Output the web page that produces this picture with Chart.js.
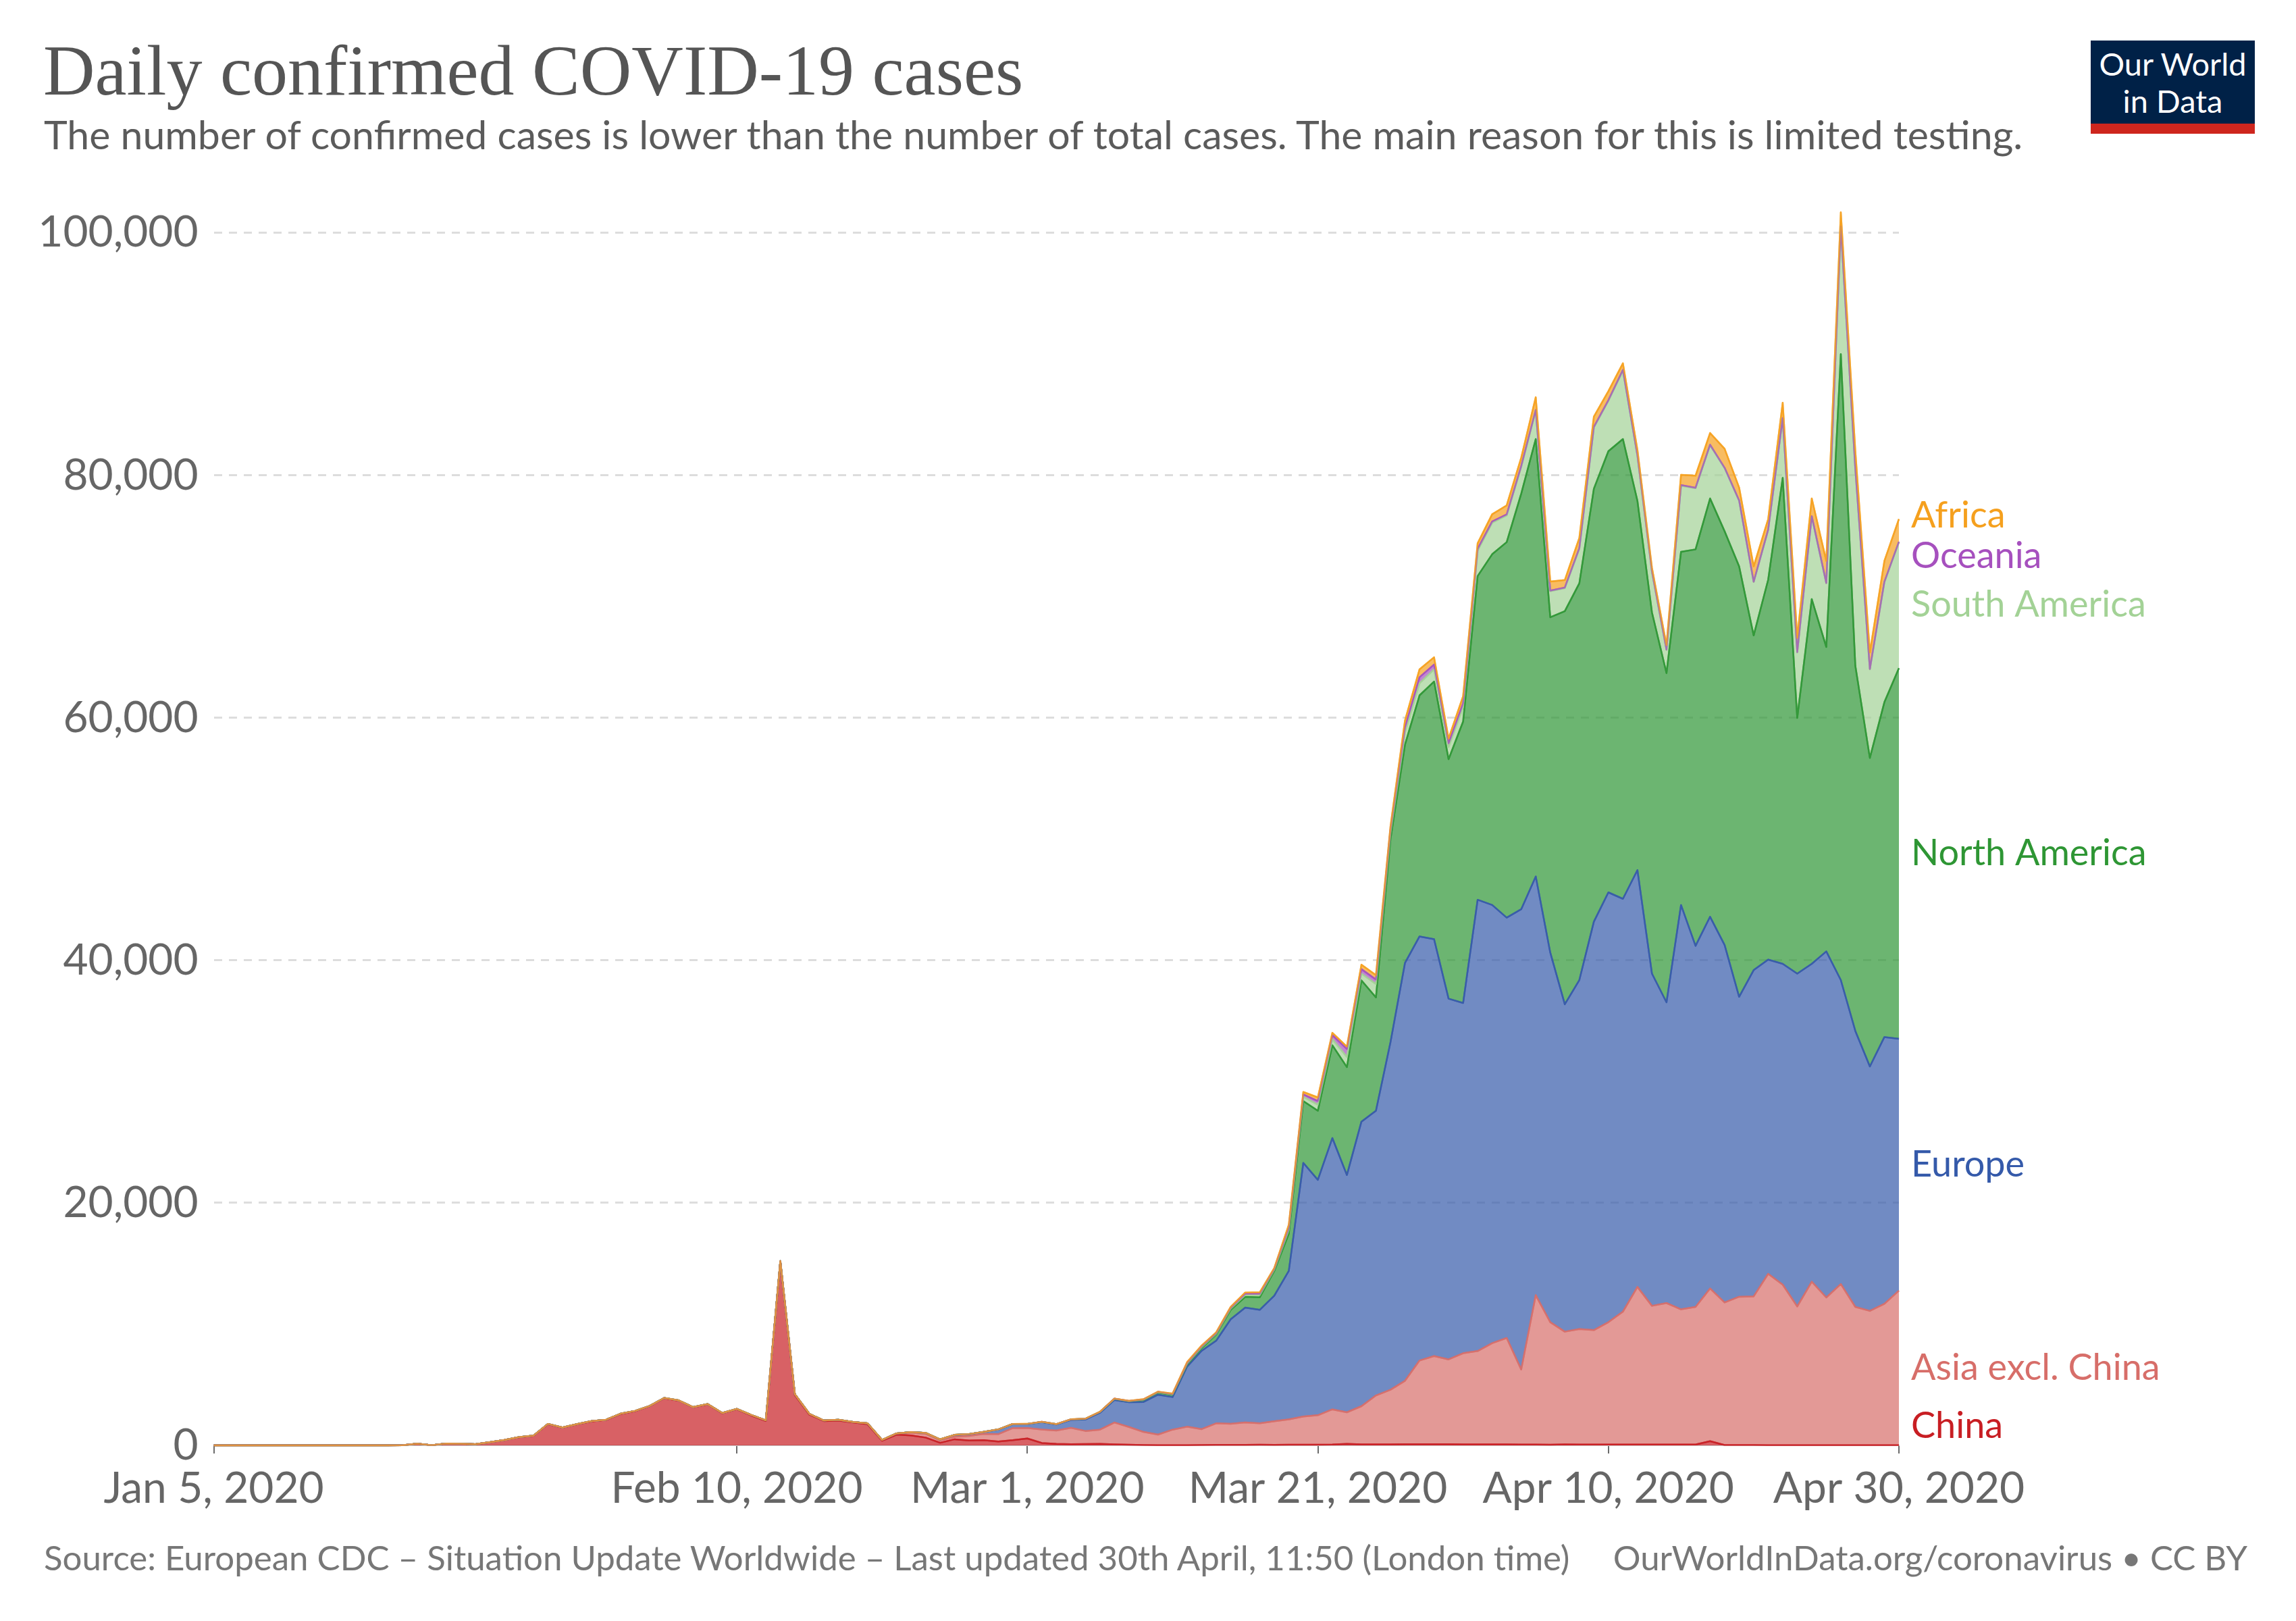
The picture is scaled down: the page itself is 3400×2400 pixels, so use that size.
<!DOCTYPE html>
<html lang="en">
<head>
<meta charset="utf-8" />
<title>Daily confirmed COVID-19 cases</title>
<script src="https://cdn.jsdelivr.net/npm/chart.js@4.4.1/dist/chart.umd.min.js"></script>
<style>
  html, body { margin: 0; padding: 0; background: #fff; }
  body { width: 3400px; height: 2400px; position: relative; overflow: hidden; font-family: Lato, "Noto Sans", sans-serif; }
  #chart { position: absolute; left: 0; top: 0; }
  .title { position: absolute; left: 64px; top: 52px; font-family: "Liberation Serif", "DejaVu Serif", serif; font-size: 106px; line-height: 1; color: #555; white-space: nowrap; }
  .subtitle { position: absolute; left: 65px; top: 164px; font-size: 59px; line-height: 1.2; color: #5b5b5b; white-space: nowrap; }
  .logo { position: absolute; left: 3096px; top: 60px; width: 243px; background: #002147; border-bottom: 15px solid #ce261e; color: #fff; text-align: center; font-size: 47px; line-height: 55px; padding-top: 7px; box-sizing: content-box; height: 116px; }
  .footer { position: absolute; top: 2275px; font-size: 51px; line-height: 1.2; color: #777; white-space: nowrap; }
  .source { left: 65px; }
  .credit { right: 72px; }
</style>
</head>
<body>
  <canvas id="chart" width="3400" height="2400"></canvas>
  <div class="title">Daily confirmed COVID-19 cases</div>
  <div class="subtitle">The number of confirmed cases is lower than the number of total cases. The main reason for this is limited testing.</div>
  <div class="logo">Our World<br>in Data</div>
  <div class="footer source">Source: European CDC – Situation Update Worldwide – Last updated 30th April, 11:50 (London time)</div>
  <div class="footer credit">OurWorldInData.org/coronavirus • CC BY</div>

<script>
  // one label per day, Jan 5 .. Apr 30 2020
  const monthNames = ['Jan', 'Feb', 'Mar', 'Apr'];
  const dates = [];
  for (let i = 0; i < 117; i++) {
    const d = new Date(2020, 0, 5 + i);
    dates.push(`${monthNames[d.getMonth()]} ${d.getDate()}, 2020`);
  }
  const tickDates = ['Jan 5, 2020', 'Feb 10, 2020', 'Mar 1, 2020', 'Mar 21, 2020', 'Apr 10, 2020', 'Apr 30, 2020'];
  const yTicks = [0, 20000, 40000, 60000, 80000, 100000];

  const china = [
    0, 0, 0, 0, 0, 0, 0, 0, 0, 0,
    0, 0, 0, 17, 136, 19, 151, 140, 97, 259,
    441, 665, 787, 1753, 1466, 1740, 1980, 2102, 2590, 2829,
    3235, 3887, 3694, 3143, 3385, 2652, 2973, 2467, 2015, 15141,
    4156, 2538, 2007, 2048, 1888, 1749, 391, 889, 823, 648,
    214, 508, 406, 433, 327, 427, 570, 200, 120, 100,
    110, 130, 80, 50, 30, 20, 20, 20, 30, 40,
    40, 40, 50, 40, 50, 50, 50, 70, 130, 80,
    80, 80, 100, 100, 100, 100, 80, 80, 80, 80,
    70, 70, 60, 80, 70, 70, 70, 70, 70, 70,
    70, 70, 70, 350, 30, 30, 30, 20, 20, 20,
    20, 20, 10, 10, 10, 20, 10
  ];
  const asiaExChina = [
    0, 0, 0, 0, 0, 0, 0, 0, 0, 0,
    0, 0, 0, 0, 1, 2, 3, 5, 3, 8,
    8, 10, 15, 20, 10, 15, 20, 15, 20, 15,
    15, 20, 15, 10, 20, 20, 30, 40, 50, 60,
    60, 60, 50, 60, 40, 70, 60, 80, 220, 300,
    200, 200, 380, 520, 600, 1000, 870, 1110, 1100, 1350,
    1080, 1170, 1810, 1470, 1080, 870, 1280, 1520, 1310, 1780,
    1740, 1850, 1770, 1950, 2090, 2330, 2440, 2900, 2600, 3150,
    4040, 4510, 5230, 6900, 7270, 6990, 7520, 7700, 8350, 8780,
    6190, 12320, 10100, 9300, 9530, 9440, 10090, 10960, 13000, 11440,
    11670, 11150, 11350, 12590, 11760, 12230, 12260, 14130, 13240, 11440,
    13480, 12180, 13300, 11410, 11080, 11660, 12750
  ];
  const europe = [
    0, 0, 0, 0, 0, 0, 0, 0, 0, 0,
    0, 0, 0, 0, 0, 0, 0, 0, 0, 0,
    0, 3, 0, 2, 0, 3, 0, 1, 5, 3,
    2, 5, 3, 3, 2, 3, 5, 3, 2, 2,
    1, 3, 2, 2, 3, 5, 5, 20, 60, 80,
    80, 160, 150, 160, 380, 330, 320, 610, 500, 650,
    950, 1390, 1860, 2050, 2470, 3290, 2690, 4960, 6460, 6810,
    8620, 9470, 9360, 10360, 12250, 20920, 19410, 22380, 19570, 23470,
    23480, 28670, 34470, 34980, 34380, 29750, 28890, 37220, 36140, 34670,
    37960, 34530, 30480, 27000, 28780, 33680, 35450, 34050, 34380, 27400,
    24800, 33350, 29780, 30660, 29480, 24740, 26910, 25920, 26460, 27450,
    26220, 28540, 25070, 22760, 20160, 22000, 20780
  ];
  const northAmerica = [
    0, 0, 0, 0, 0, 0, 0, 0, 0, 0,
    0, 0, 0, 0, 0, 0, 1, 0, 0, 0,
    0, 1, 0, 0, 0, 1, 0, 3, 0, 0,
    1, 0, 1, 0, 0, 0, 0, 0, 0, 0,
    0, 0, 0, 1, 0, 0, 0, 1, 2, 3,
    5, 3, 4, 5, 10, 10, 10, 20, 30, 40,
    50, 60, 80, 60, 160, 180, 190, 150, 220, 510,
    780, 890, 1040, 2040, 3070, 5100, 5700, 7650, 8900, 11650,
    9350, 16740, 18000, 19880, 21250, 19760, 23210, 26700, 28930, 30970,
    34280, 36080, 27660, 32420, 32720, 35710, 36390, 37920, 30450, 29790,
    27160, 29130, 32700, 34500, 34130, 35500, 27600, 31330, 40080, 21090,
    30080, 25110, 51620, 30120, 25450, 27620, 30560
  ];
  const southAmerica = [
    0, 0, 0, 0, 0, 0, 0, 0, 0, 0,
    0, 0, 0, 0, 0, 0, 0, 0, 0, 0,
    0, 0, 0, 0, 0, 0, 0, 0, 0, 0,
    0, 0, 0, 0, 0, 0, 0, 0, 0, 0,
    0, 0, 0, 0, 0, 0, 0, 0, 0, 0,
    0, 0, 0, 0, 0, 0, 2, 2, 3, 5,
    5, 10, 15, 20, 30, 30, 30, 80, 80, 60,
    100, 150, 170, 100, 300, 350, 500, 500, 840, 560,
    1100, 500, 1000, 1000, 1000, 1000, 1200, 2100, 2600, 2200,
    2200, 2350, 2150, 1900, 2850, 5050, 4150, 5650, 3700, 3350,
    1900, 5450, 5050, 4400, 5200, 5400, 4400, 4100, 4900, 5400,
    6800, 5250, 10500, 16200, 7300, 9900, 10400
  ];
  const oceania = [
    0, 0, 0, 0, 0, 0, 0, 0, 0, 0,
    0, 0, 0, 0, 0, 0, 0, 0, 0, 0,
    0, 0, 0, 0, 0, 0, 0, 0, 0, 0,
    0, 0, 0, 0, 0, 0, 0, 0, 0, 0,
    0, 0, 0, 0, 0, 0, 0, 0, 0, 0,
    0, 0, 0, 0, 0, 0, 2, 2, 2, 3,
    5, 5, 10, 10, 20, 20, 20, 60, 70, 60,
    70, 100, 120, 70, 200, 200, 300, 330, 650, 370,
    370, 300, 400, 500, 400, 300, 300, 140, 100, 80,
    70, 50, 50, 50, 50, 50, 50, 50, 50, 30,
    30, 50, 30, 30, 30, 30, 30, 30, 30, 30,
    30, 30, 30, 30, 30, 30, 30
  ];
  const africa = [
    0, 0, 0, 0, 0, 0, 0, 0, 0, 0,
    0, 0, 0, 0, 0, 0, 0, 0, 0, 0,
    0, 0, 0, 0, 0, 0, 0, 0, 0, 0,
    0, 0, 0, 0, 0, 0, 0, 0, 0, 0,
    0, 0, 0, 0, 0, 0, 0, 0, 0, 0,
    0, 0, 0, 0, 0, 0, 2, 3, 3, 5,
    5, 10, 10, 20, 20, 20, 40, 80, 70, 60,
    70, 110, 120, 70, 240, 200, 300, 200, 200, 370,
    370, 250, 600, 650, 600, 400, 600, 460, 600, 750,
    700, 1050, 750, 620, 850, 850, 750, 550, 450, 300,
    370, 850, 1000, 970, 1570, 1070, 1270, 870, 1270, 1170,
    1470, 1820, 1170, 1470, 1370, 1720, 1870
  ];

  // bottom of the stack first
  const seriesNames = ['China', 'Asia excl. China', 'Europe', 'North America', 'South America', 'Oceania', 'Africa'];
  const seriesData = [china, asiaExChina, europe, northAmerica, southAmerica, oceania, africa];
  const seriesRgb = [
    [200, 30, 35], [215, 110, 105], [53, 90, 170], [46, 150, 52],
    [163, 210, 150], [166, 80, 190], [245, 160, 30]
  ];
  const rgba = (c, a) => `rgba(${c[0]},${c[1]},${c[2]},${a})`;

  // redraw the lines bottom -> top so the upper series' outline sits on top
  const lineOrder = {
    id: 'lineOrder',
    afterDatasetsDraw(chart) {
      const { ctx, chartArea } = chart;
      ctx.save();
      ctx.beginPath();
      ctx.rect(chartArea.left - 2, chartArea.top - 40, chartArea.width + 4, chartArea.height + 42);
      ctx.clip();
      chart.data.datasets.forEach((ds, i) => {
        chart.getDatasetMeta(i).dataset.draw(ctx, chartArea);
      });
      ctx.restore();
    }
  };

  // series names at the right end, nudged apart when they collide
  const endLabels = {
    id: 'endLabels',
    afterDraw(chart) {
      const { ctx, chartArea, scales } = chart;
      const last = dates.length - 1;
      const zero = scales.y.getPixelForValue(0);
      const gap = 60;
      let items = chart.data.datasets.map((ds, i) => {
        const top = chart.getDatasetMeta(i).data[last].y;
        const bottom = i === 0 ? zero : chart.getDatasetMeta(i - 1).data[last].y;
        return { text: ds.label, color: rgba(seriesRgb[i], 1), want: (top + bottom) / 2 };
      }).reverse();

      let clusters = items.map(it => ({ items: [it], y: it.want }));
      let merged = true;
      while (merged) {
        merged = false;
        for (let i = 1; i < clusters.length; i++) {
          const a = clusters[i - 1], b = clusters[i];
          const aBottom = a.y + (a.items.length - 1) * gap / 2;
          const bTop = b.y - (b.items.length - 1) * gap / 2;
          if (bTop - aBottom < gap) {
            const all = a.items.concat(b.items);
            const y = all.reduce((s, it) => s + it.want, 0) / all.length;
            clusters.splice(i - 1, 2, { items: all, y });
            merged = true;
            break;
          }
        }
      }
      const maxY = chartArea.bottom - 28;
      ctx.save();
      ctx.font = '54px Lato';
      ctx.textAlign = 'left';
      ctx.textBaseline = 'middle';
      clusters.forEach(c => {
        const n = c.items.length;
        let start = c.y - (n - 1) * gap / 2;
        const end = start + (n - 1) * gap;
        if (end > maxY) start -= end - maxY;
        c.items.forEach((it, k) => {
          ctx.fillStyle = it.color;
          ctx.fillText(it.text, chartArea.right + 18, start + k * gap);
        });
      });
      ctx.restore();
    }
  };

  const datasets = seriesNames.map((name, i) => ({
    label: name,
    data: seriesData[i],
    fill: i === 0 ? 'origin' : '-1',
    backgroundColor: rgba(seriesRgb[i], 0.7),
    borderColor: rgba(seriesRgb[i], 0.75),
    borderWidth: 2.5,
    pointRadius: 0,
    tension: 0
  }));

  const axisFont = { family: 'Lato', size: 64 };

  new Chart(document.getElementById('chart'), {
    type: 'line',
    data: { labels: dates, datasets },
    options: {
      responsive: false,
      animation: false,
      devicePixelRatio: 1,
      layout: { padding: { left: 0, top: 291, right: 588, bottom: 160 } },
      plugins: { legend: { display: false }, tooltip: { enabled: false } },
      elements: { line: { borderJoinStyle: 'round' } },
      scales: {
        x: {
          type: 'category',
          offset: false,
          grid: { drawOnChartArea: false, drawTicks: true, tickLength: 12, color: '#6b6b6b', lineWidth: 2 },
          border: { display: true, color: '#cccccc', width: 2 },
          ticks: { autoSkip: false, maxRotation: 0, minRotation: 0, padding: 14, color: '#666', font: axisFont },
          afterBuildTicks: s => { s.ticks = s.ticks.filter(t => tickDates.includes(dates[t.value])); },
          afterFit: s => { s.height = 100; }
        },
        y: {
          stacked: true,
          min: 0,
          max: 103000,
          grid: {
            drawTicks: false,
            lineWidth: 3,
            color: c => (c.tick && c.tick.value === 0) ? 'rgba(0,0,0,0)' : '#dddddd'
          },
          border: { display: false, dash: [12, 10] },
          ticks: { padding: 23, color: '#666', font: axisFont, callback: v => v.toLocaleString('en-US') },
          afterBuildTicks: s => { s.ticks = yTicks.map(v => ({ value: v })); },
          afterFit: s => { s.width = 316.6; }
        }
      }
    },
    plugins: [lineOrder, endLabels]
  });
</script>
</body>
</html>
